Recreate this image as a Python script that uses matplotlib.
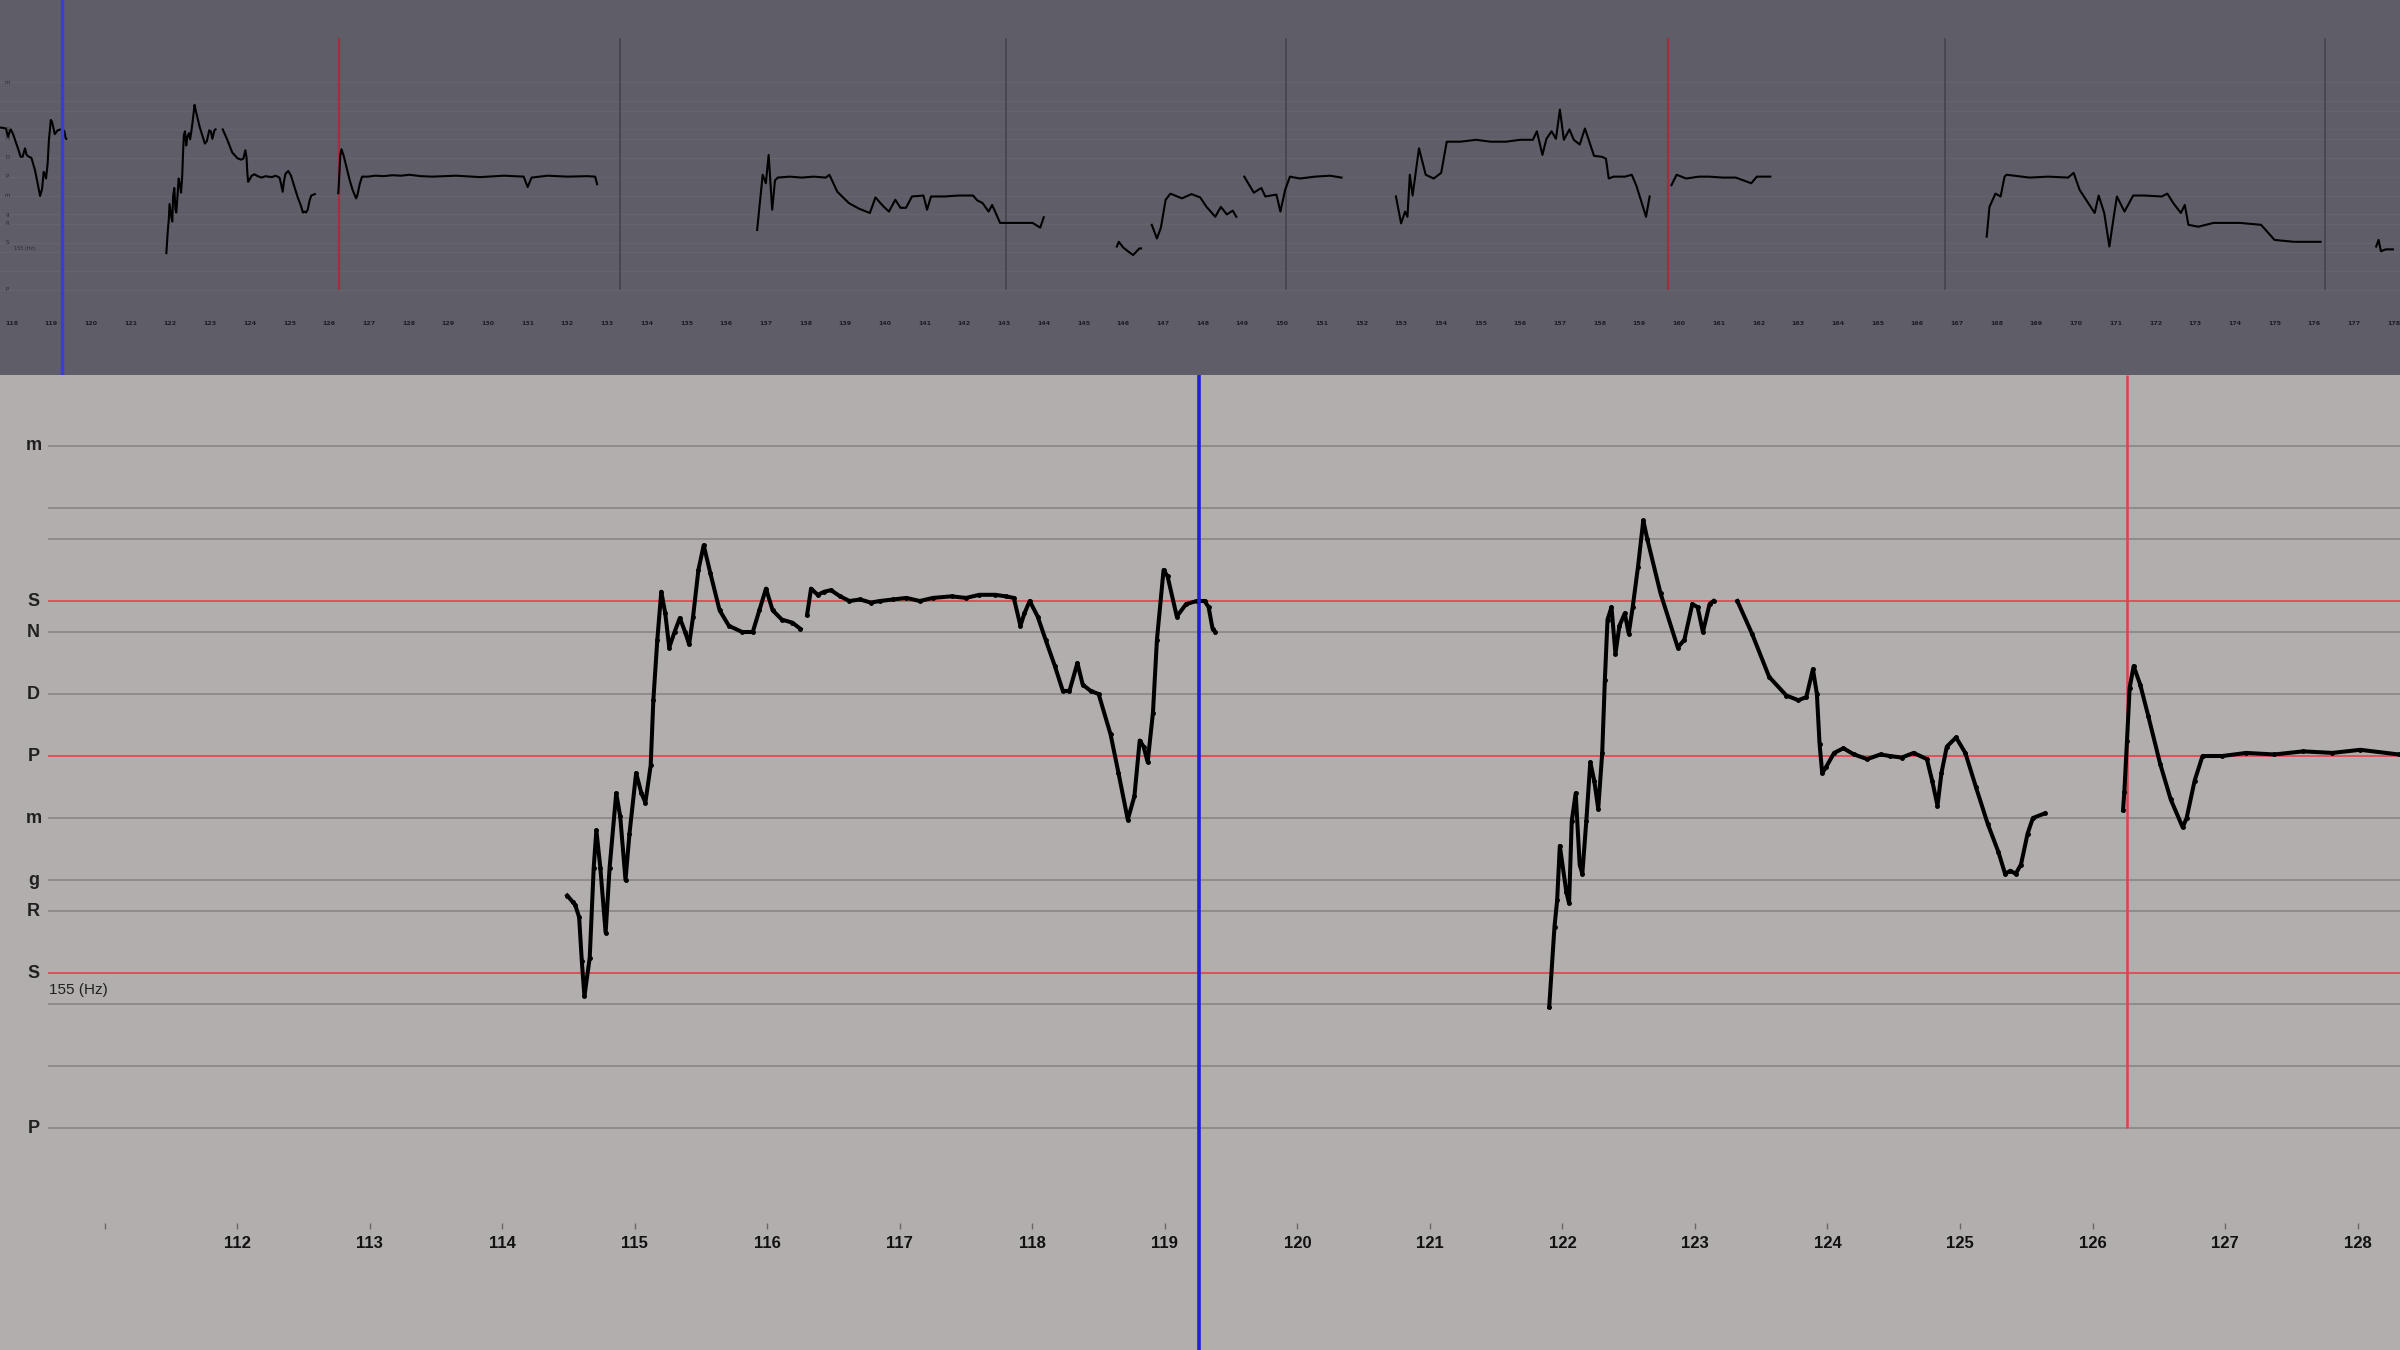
import matplotlib
matplotlib.use("Agg")
from matplotlib import pyplot as plt
from matplotlib import transforms

# pitch in semitones relative to the tonic S (155 Hz), time in seconds

# traced phrases (shown in both panels)
seg1_t = [114.49, 114.53, 114.55, 114.58, 114.60, 114.62, 114.66, 114.69, 114.71, 114.74, 114.78,
          114.81, 114.86, 114.89, 114.93, 114.96, 115.01, 115.05, 115.08, 115.12, 115.14, 115.17,
          115.20, 115.23, 115.26, 115.30, 115.34, 115.38, 115.41, 115.44, 115.48, 115.52, 115.57,
          115.64, 115.71, 115.81, 115.89, 115.94, 115.99, 116.04, 116.11, 116.19, 116.25]
seg1_st = [2.5, 2.3, 2.2, 1.8, 0.4, -0.75, 0.5, 3.4, 4.6, 3.4, 1.3,
           3.4, 5.8, 5.05, 3.0, 4.5, 6.45, 5.8, 5.5, 6.7, 8.8, 10.75,
           12.3, 11.6, 10.5, 11.0, 11.45, 11.0, 10.6, 11.5, 13.0, 13.8, 12.9,
           11.7, 11.2, 11.0, 11.0, 11.7, 12.4, 11.7, 11.4, 11.3, 11.1]

seg2_t = [116.30, 116.33, 116.38, 116.43, 116.48, 116.55, 116.62, 116.70, 116.78, 116.85, 116.95,
          117.05, 117.15, 117.25, 117.39, 117.50, 117.60, 117.72, 117.80, 117.86, 117.91, 117.94,
          117.98, 118.04, 118.10, 118.17, 118.23, 118.28, 118.34, 118.38, 118.44, 118.50, 118.59,
          118.65, 118.72, 118.77, 118.81, 118.84, 118.87, 118.91, 118.94, 118.99, 119.02, 119.09,
          119.16, 119.24, 119.30, 119.33, 119.36, 119.38]
seg2_st = [11.55, 12.4, 12.2, 12.3, 12.35, 12.15, 12.0, 12.05, 11.95, 12.0, 12.05,
           12.1, 12.0, 12.1, 12.15, 12.1, 12.2, 12.2, 12.15, 12.1, 11.2, 11.6,
           12.0, 11.5, 10.75, 9.9, 9.1, 9.1, 10.0, 9.3, 9.1, 9.0, 7.7,
           6.45, 4.95, 5.7, 7.5, 7.3, 6.8, 8.4, 10.75, 13.0, 12.8, 11.5,
           11.9, 12.0, 12.0, 11.8, 11.1, 11.0]

seg3_t = [121.90, 121.94, 121.96, 121.98, 122.03, 122.05, 122.07, 122.10, 122.13, 122.15, 122.18,
          122.21, 122.24, 122.27, 122.30, 122.32, 122.34, 122.37, 122.40, 122.43, 122.47, 122.50,
          122.53, 122.57, 122.61, 122.64, 122.74, 122.87, 122.92, 122.98, 123.02, 123.06, 123.11,
          123.14]
seg3_st = [-1.1, 1.5, 2.35, 4.1, 2.6, 2.25, 4.9, 5.8, 3.5, 3.2, 4.9,
           6.8, 6.2, 5.3, 7.1, 9.45, 11.4, 11.8, 10.3, 11.2, 11.6, 10.95,
           11.8, 13.1, 14.6, 14.0, 12.25, 10.5, 10.75, 11.9, 11.8, 11.0, 11.9,
           12.0]

seg4_t = [123.32, 123.43, 123.56, 123.69, 123.78, 123.84, 123.89, 123.92, 123.94, 123.96, 123.99,
          124.05, 124.12, 124.20, 124.30, 124.40, 124.47, 124.56, 124.65, 124.75, 124.79, 124.83,
          124.86, 124.90, 124.97, 125.04, 125.12, 125.21, 125.29, 125.34, 125.38, 125.42, 125.46,
          125.51, 125.55, 125.64]
seg4_st = [12.0, 10.95, 9.55, 8.95, 8.8, 8.9, 9.8, 9.0, 7.4, 6.45, 6.65,
           7.1, 7.25, 7.05, 6.9, 7.05, 7.0, 6.95, 7.1, 6.9, 6.2, 5.4,
           6.45, 7.3, 7.6, 7.1, 6.0, 4.8, 3.9, 3.2, 3.3, 3.2, 3.5,
           4.5, 5.0, 5.15]

seg5_t = [126.23, 126.24, 126.26, 126.28, 126.31, 126.36, 126.42, 126.51, 126.59, 126.68, 126.71,
          126.77, 126.83, 126.98, 127.16, 127.37, 127.59, 127.81, 128.02, 128.31, 128.6, 129.2,
          129.8, 130.4, 130.9, 131.0, 131.1, 131.5, 132.0, 132.5, 132.7, 132.75]
seg5_st = [5.25, 5.85, 7.5, 9.2, 9.9, 9.3, 8.3, 6.75, 5.6, 4.7, 5.0,
           6.2, 7.0, 7.0, 7.1, 7.05, 7.15, 7.1, 7.2, 7.05, 7.0, 7.1,
           6.95, 7.1, 7.0, 5.9, 6.9, 7.1, 7.0, 7.05, 7.0, 6.2]

# phrases only visible in the overview strip
ov1_t = [136.78, 136.92, 137.0, 137.07, 137.16, 137.23, 137.3, 137.6, 137.9, 138.2, 138.51, 138.6,
         138.8, 139.09, 139.35, 139.62, 139.76, 139.95, 140.1, 140.26, 140.39, 140.53, 140.68,
         140.97, 141.06, 141.16, 141.5, 141.85, 142.22, 142.32, 142.46, 142.61, 142.70, 142.9,
         143.23, 143.72, 143.91, 144.0]
ov1_st = [1.35, 7.2, 6.3, 9.3, 3.5, 6.6, 6.9, 7.0, 6.9, 7.0, 6.9, 7.2,
          5.4, 4.2, 3.6, 3.15, 4.8, 3.9, 3.3, 4.55, 3.7, 3.7, 4.9,
          5.0, 3.5, 4.9, 4.9, 5.0, 5.0, 4.5, 4.2, 3.3, 4.0, 2.1,
          2.1, 2.1, 1.6, 2.7]
ov2_t = [145.84, 145.89, 146.0, 146.12, 146.25, 146.41, 146.45]
ov2_st = [-0.4, 0.1, -0.5, -0.9, -1.3, -0.6, -0.6]
ov3_t = [146.72, 146.85, 146.95, 147.07, 147.19, 147.48, 147.72, 147.94, 148.1, 148.32, 148.46,
         148.61, 148.76, 148.85]
ov3_st = [1.9, 0.45, 1.6, 4.55, 5.2, 4.7, 5.15, 4.8, 3.8, 2.75, 3.8, 3.0, 3.4, 2.75]
ov4_t = [149.05, 149.29, 149.48, 149.58, 149.86, 149.96, 150.08, 150.2, 150.45, 150.83, 151.21, 151.5]
ov4_st = [7.0, 5.3, 5.8, 4.9, 5.1, 3.3, 5.6, 7.0, 6.8, 7.0, 7.1, 6.9]
ov5_t = [152.87, 153.0, 153.1, 153.16, 153.22, 153.29, 153.45, 153.62, 153.82, 154.01, 154.15,
         154.49, 154.89, 155.25, 155.64, 156.0, 156.32, 156.42, 156.56, 156.66, 156.79, 156.9,
         157.0, 157.1, 157.24, 157.35, 157.5, 157.63, 157.86, 158.06, 158.16, 158.23, 158.35,
         158.64, 158.81, 158.93, 159.17, 159.26]
ov5_st = [4.9, 2.05, 3.3, 2.75, 7.2, 5.0, 10.0, 7.2, 6.8, 7.4, 10.7,
          10.7, 10.9, 10.7, 10.7, 10.9, 10.9, 11.8, 9.3, 11.0, 11.8, 11.0,
          14.1, 10.9, 12.0, 10.9, 10.4, 12.1, 9.2, 9.1, 8.9, 6.8, 7.0,
          7.0, 7.2, 6.0, 2.75, 4.9]
ov6_t = [159.81, 159.94, 160.18, 160.5, 160.76, 161.1, 161.43, 161.82, 161.96, 162.3]
ov6_st = [6.1, 7.2, 6.8, 7.0, 7.0, 6.9, 6.9, 6.3, 7.0, 7.0]
ov7_t = [167.75, 167.82, 167.97, 168.1, 168.2, 168.25, 168.83, 169.3, 169.8, 169.94, 170.09,
         170.47, 170.57, 170.71, 170.84, 170.95, 171.03, 171.22, 171.44, 171.72, 172.16, 172.3,
         172.45, 172.64, 172.74, 172.83, 173.08, 173.46, 174.13, 174.66, 175.0, 175.49, 176.16]
ov7_st = [0.65, 3.8, 5.2, 4.9, 7.0, 7.2, 6.9, 7.0, 6.9, 7.4, 5.6,
          3.15, 5.0, 3.15, -0.4, 2.75, 4.9, 3.3, 5.0, 5.0, 4.9, 5.2,
          4.2, 3.15, 4.0, 1.9, 1.7, 2.1, 2.1, 1.9, 0.3, 0.1, 0.1]
ov8_t = [177.56, 177.62, 177.68, 177.8, 177.98]
ov8_st = [-0.4, 0.3, -0.9, -0.7, -0.7]

# scale lines
grid_st = [17, 15, 14, 12, 11, 9, 7, 5, 3, 2, 0, -1, -3, -5]
red_st = [12, 7, 0]
swara_st = [17, 12, 11, 9, 7, 5, 3, 2, 0, -5]
swara_names = ["m", "S", "N", "D", "P", "m", "g", "R", "S", "P"]
tonic_label = "155 (Hz)"

# markers / cursor
cursor_t = 119.26
red_marks = [126.26, 159.72]
gray_marks = [133.33, 143.04, 150.1, 166.71, 176.27]

detail_ticks = list(range(111, 129))
overview_ticks = list(range(118, 179))

phrases = [(seg1_t, seg1_st), (seg2_t, seg2_st), (seg3_t, seg3_st), (seg4_t, seg4_st), (seg5_t, seg5_st)]
overview = phrases + [(ov1_t, ov1_st), (ov2_t, ov2_st), (ov3_t, ov3_st), (ov4_t, ov4_st),
                      (ov5_t, ov5_st), (ov6_t, ov6_st), (ov7_t, ov7_st), (ov8_t, ov8_st)]

fig = plt.figure(figsize=(24, 13.5), dpi=100)
fig.patch.set_facecolor("#b3aeae")

# ---------------- overview strip ----------------
top = fig.add_axes([0, 975 / 1350, 1, 375 / 1350])
top.set_facecolor("#5f5e68")
top.set_xlim(117.71, 178.16)
top.set_ylim(-14.0, 25.7)
for s in top.spines.values():
    s.set_visible(False)
top.set_xticks([])
top.set_yticks([])

for y in grid_st:
    top.axhline(y, color="#68606d" if y in red_st else "#65646d", lw=1.0, zorder=1)
for x in gray_marks:
    top.vlines(x, -5, 21.7, color="#45444c", lw=1.2, zorder=2)
for x in red_marks:
    top.vlines(x, -5, 21.7, color="#a03040", lw=1.6, zorder=2)
top.axvline(cursor_t, color="#3a3ae0", lw=2.5, zorder=4)

for t, st in overview:
    top.plot(t, st, color="black", lw=1.5, zorder=3)

tr_top = transforms.blended_transform_factory(top.transAxes, top.transData)
for y, name in zip(swara_st, swara_names):
    top.text(0.003, y, name, transform=tr_top, fontsize=4, color="#2a2a2e", va="center", ha="center")
top.text(0.006, -0.6, tonic_label, transform=tr_top, fontsize=3.5, color="#2a2a2e", va="center", ha="left")

sec_top = top.secondary_xaxis(0.145)
for s in sec_top.spines.values():
    s.set_visible(False)
sec_top.set_xticks(overview_ticks, [str(v) for v in overview_ticks])
sec_top.tick_params(length=0, pad=0, labelsize=4.5, labelcolor="#1e1e22")
for lab in sec_top.get_xticklabels():
    lab.set_fontweight("bold")

# ---------------- detail view ----------------
ax = fig.add_axes([0, 0, 1, 975 / 1350])
ax.set_facecolor("#b3aeae")
ax.set_xlim(110.21, 128.32)
ax.set_ylim(-12.16, 19.29)
for s in ax.spines.values():
    s.set_visible(False)
ax.set_xticks([])
ax.set_yticks([])

for y in grid_st:
    if y in red_st:
        ax.hlines(y, 110.57, 128.32, color="#e0505c", lw=1.4, zorder=1)
    else:
        ax.hlines(y, 110.57, 128.32, color="#8d8989", lw=1.3, zorder=1)

tr = transforms.blended_transform_factory(ax.transAxes, ax.transData)
for y, name in zip(swara_st, swara_names):
    ax.text(0.014, y, name, transform=tr, fontsize=13, fontweight="bold", color="#202020",
            va="center", ha="center", family="Liberation Sans")
ax.text(0.0205, -0.55, tonic_label, transform=tr, fontsize=11, color="#202020",
        va="center", ha="left", family="Liberation Sans")

for t, st in phrases:
    ax.plot(t, st, color="black", lw=2.9, marker=".", ms=5, zorder=3)

ax.vlines(red_marks[0], -5, 19.29, color="#e0404e", lw=1.8, zorder=2)
ax.axvline(cursor_t, color="#2020d8", lw=2.6, zorder=4)

sec = ax.secondary_xaxis(0.13)
for s in sec.spines.values():
    s.set_visible(False)
sec.set_xticks(detail_ticks, [""] + [str(v) for v in detail_ticks[1:]])
sec.tick_params(length=4, width=1, color="#6a6666", pad=5, labelsize=12, labelcolor="#111111")
for lab in sec.get_xticklabels():
    lab.set_fontweight("bold")
    lab.set_family("Liberation Sans")

fig.savefig("out.png", dpi=100, facecolor=fig.get_facecolor())
